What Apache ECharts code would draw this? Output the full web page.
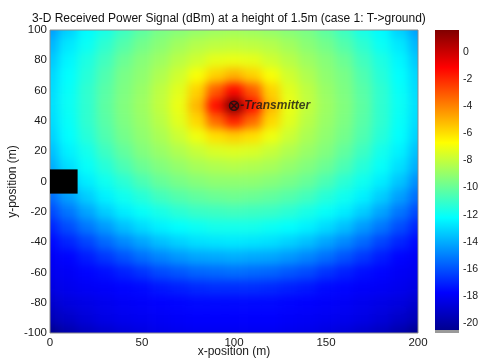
<!DOCTYPE html>
<html><head><meta charset="utf-8">
<script src="https://cdn.jsdelivr.net/npm/echarts@6/dist/echarts.min.js"></script>
<style>
html,body{margin:0;padding:0;background:#fff;}
#clip{position:absolute;left:50px;top:30px;width:368px;height:303px;overflow:hidden;}
#heat{position:absolute;left:-50px;top:-30px;width:478px;height:363px;filter:blur(5px);}
#main{position:absolute;left:0;top:0;width:478px;height:363px;}
</style></head><body>
<div id="clip"><div id="heat"></div></div>
<div id="main"></div>
<script>
// ---------- data ----------
const titleText = '3-D Received Power Signal (dBm) at a height of 1.5m (case 1: T->ground)';
const xPositions = [0,10,20,30,40,50,60,70,80,90,100,110,120,130,140,150,160,170,180,190,200];
const yPositions = [100,90,80,70,60,50,40,30,20,10,0,-10,-20,-30,-40,-50,-60,-70,-80,-90,-100];
// received power (dBm), one row per y position (top to bottom), one column per x position
const powerRows = [
 [-14.3,-13.2,-12.3,-11.7,-10.9,-10.2,-9.6,-9.3,-9.0,-8.8,-8.7,-8.8,-9.0,-9.3,-9.6,-10.2,-10.9,-11.7,-12.3,-13.2,-14.3],
 [-13.8,-12.7,-12.0,-11.2,-10.4,-9.7,-9.2,-8.7,-8.3,-8.1,-8.0,-8.1,-8.3,-8.7,-9.2,-9.7,-10.4,-11.2,-12.0,-12.7,-13.8],
 [-13.4,-12.4,-11.6,-10.8,-9.9,-9.3,-8.8,-8.2,-7.7,-7.2,-7.1,-7.2,-7.7,-8.2,-8.8,-9.3,-9.9,-10.8,-11.6,-12.4,-13.4],
 [-13.1,-12.2,-11.4,-10.5,-9.6,-9.1,-8.4,-7.7,-6.8,-5.7,-5.0,-5.7,-6.8,-7.7,-8.4,-9.1,-9.6,-10.5,-11.4,-12.2,-13.1],
 [-13.0,-12.1,-11.2,-10.3,-9.5,-8.9,-8.1,-7.3,-5.7,-3.1,-1.3,-3.1,-5.7,-7.3,-8.1,-8.9,-9.5,-10.3,-11.2,-12.1,-13.0],
 [-12.9,-12.0,-11.2,-10.2,-9.4,-8.8,-8.0,-7.1,-5.1,-1.4,1.6,-1.4,-5.1,-7.1,-8.0,-8.8,-9.4,-10.2,-11.2,-12.0,-12.9],
 [-13.0,-12.1,-11.2,-10.3,-9.5,-8.9,-8.2,-7.3,-5.8,-3.4,-1.8,-3.4,-5.8,-7.3,-8.2,-8.9,-9.5,-10.3,-11.2,-12.1,-13.0],
 [-13.2,-12.2,-11.4,-10.5,-9.7,-9.1,-8.5,-7.8,-7.0,-6.0,-5.6,-6.0,-7.0,-7.8,-8.5,-9.1,-9.7,-10.5,-11.4,-12.2,-13.2],
 [-13.6,-12.5,-11.8,-10.9,-10.1,-9.4,-8.9,-8.4,-7.9,-7.5,-7.4,-7.5,-7.9,-8.4,-8.9,-9.4,-10.1,-10.9,-11.8,-12.5,-13.6],
 [-14.0,-12.9,-12.1,-11.4,-10.6,-9.9,-9.4,-9.0,-8.6,-8.4,-8.3,-8.4,-8.6,-9.0,-9.4,-9.9,-10.6,-11.4,-12.1,-12.9,-14.0],
 [-14.7,-13.5,-12.6,-11.9,-11.3,-10.6,-10.0,-9.6,-9.3,-9.1,-9.1,-9.1,-9.3,-9.6,-10.0,-10.6,-11.3,-11.9,-12.6,-13.5,-14.7],
 [-15.4,-14.3,-13.3,-12.5,-11.9,-11.4,-10.8,-10.4,-10.1,-9.9,-9.8,-9.9,-10.1,-10.4,-10.8,-11.4,-11.9,-12.5,-13.3,-14.3,-15.4],
 [-16.2,-15.2,-14.2,-13.3,-12.6,-12.1,-11.7,-11.3,-11.0,-10.9,-10.8,-10.9,-11.0,-11.3,-11.7,-12.1,-12.6,-13.3,-14.2,-15.2,-16.2],
 [-17.0,-16.1,-15.2,-14.4,-13.6,-13.0,-12.5,-12.2,-12.0,-11.8,-11.8,-11.8,-12.0,-12.2,-12.5,-13.0,-13.6,-14.4,-15.2,-16.1,-17.0],
 [-17.6,-17.0,-16.3,-15.5,-14.8,-14.2,-13.6,-13.2,-12.9,-12.8,-12.7,-12.8,-12.9,-13.2,-13.6,-14.2,-14.8,-15.5,-16.3,-17.0,-17.6],
 [-18.0,-17.7,-17.2,-16.6,-16.0,-15.4,-14.9,-14.5,-14.2,-14.1,-14.0,-14.1,-14.2,-14.5,-14.9,-15.4,-16.0,-16.6,-17.2,-17.7,-18.0],
 [-18.2,-18.0,-17.7,-17.5,-17.1,-16.7,-16.2,-15.9,-15.6,-15.5,-15.4,-15.5,-15.6,-15.9,-16.2,-16.7,-17.1,-17.5,-17.7,-18.0,-18.2],
 [-18.5,-18.2,-18.0,-17.9,-17.7,-17.6,-17.3,-17.1,-16.9,-16.8,-16.8,-16.8,-16.9,-17.1,-17.3,-17.6,-17.7,-17.9,-18.0,-18.2,-18.5],
 [-19.0,-18.6,-18.4,-18.2,-18.0,-17.9,-17.8,-17.7,-17.6,-17.6,-17.6,-17.6,-17.6,-17.7,-17.8,-17.9,-18.0,-18.2,-18.4,-18.6,-19.0],
 [-19.5,-19.1,-18.7,-18.4,-18.2,-18.1,-18.0,-17.9,-17.8,-17.8,-17.8,-17.8,-17.8,-17.9,-18.0,-18.1,-18.2,-18.4,-18.7,-19.1,-19.5],
 [-20.7,-19.8,-19.3,-19.0,-18.7,-18.5,-18.3,-18.2,-18.1,-18.1,-18.1,-18.1,-18.1,-18.2,-18.3,-18.5,-18.7,-19.0,-19.3,-19.8,-20.7]
];
const transmitter = [100, 50];
const transmitterLabel = '-Transmitter';
const obstacle = [0, -8, 15, 8];          // x0, y0, x1, y1
const xTickValues = [0, 50, 100, 150, 200];
const yTickValues = [-100, -80, -60, -40, -20, 0, 20, 40, 60, 80, 100];
const colorbarTicks = [-20, -18, -16, -14, -12, -10, -8, -6, -4, -2, 0];
const jetMin = -20.55, jetMax = 1.65, colorbarMin = -20.75;

// ---------- styling ----------
const FONT = "'Liberation Sans', Arial, Helvetica, sans-serif";
const jetColors = ['#00008f','#0000ff','#0080ff','#00ffff','#80ff80','#ffff00','#ff8000','#ff0000','#800000'];
const grayColor = '#9a9a9a';

const cells = [];
yPositions.forEach((y, r) => xPositions.forEach((x, c) => cells.push([x, y, powerRows[r][c]])));
const hx = (xPositions[1] - xPositions[0]) / 2;
const hy = (yPositions[0] - yPositions[1]) / 2;
const xMin = xPositions[0], xMax = xPositions[xPositions.length - 1];
const yMax = yPositions[0], yMin = yPositions[yPositions.length - 1];

// ----- heat layer (blurred to mimic the interpolated shading) -----
const heat = echarts.init(document.getElementById('heat'), null, {renderer: 'canvas'});
heat.setOption({
  animation: false,
  grid: {left: 50, top: 30, width: 368, height: 303, outerBoundsMode: 'none'},
  xAxis: {type: 'value', min: 0, max: 200, show: false},
  yAxis: {type: 'value', min: -100, max: 100, show: false},
  visualMap: {show: false, type: 'continuous', min: jetMin, max: jetMax, dimension: 2, seriesIndex: 0,
    inRange: {color: jetColors}, outOfRange: {color: grayColor}},
  series: [{
    type: 'custom', data: cells, clip: false,
    renderItem: function (params, api) {
      const x = api.value(0), y = api.value(1);
      const p0 = api.coord([x - hx, y + hy]);
      const p1 = api.coord([x + hx, y - hy]);
      let l = p0[0], t = p0[1], r = p1[0], b = p1[1];
      const pad = 30;
      if (x === xMin) l -= pad;
      if (x === xMax) r += pad;
      if (y === yMax) t -= pad;
      if (y === yMin) b += pad;
      return {type: 'rect', shape: {x: l, y: t, width: r - l + 0.6, height: b - t + 0.6},
        style: {fill: api.visual('color')}};
    }
  }]
});

// ----- main layer: axes, text, marks, colorbar -----
const cbOffset = (jetMin - colorbarMin) / (jetMax - colorbarMin);
const cbStops = [{offset: 0, color: grayColor}, {offset: cbOffset, color: grayColor}];
jetColors.forEach((c, i) => cbStops.push({offset: cbOffset + (1 - cbOffset) * i / (jetColors.length - 1), color: c}));

const labelStyle = {color: '#1a1a1a', fontSize: 11.5, fontFamily: FONT};
const nameStyle = {color: '#1a1a1a', fontSize: 12, fontFamily: FONT};
const cbLabelStyle = {color: '#1a1a1a', fontSize: 10.5, fontFamily: FONT};
const main = echarts.init(document.getElementById('main'), null, {renderer: 'canvas'});
main.setOption({
  animation: false,
  backgroundColor: 'transparent',
  title: {text: titleText, left: 27, top: 8,
    textStyle: {fontSize: 12, fontWeight: 'normal', color: '#111', fontFamily: FONT}},
  grid: [
    {left: 50, top: 30, width: 368, height: 303, show: true, borderColor: '#8a8a8a', borderWidth: 1,
      backgroundColor: 'transparent', outerBoundsMode: 'none'},
    {left: 435, top: 30, width: 24, height: 303, outerBoundsMode: 'none'}
  ],
  xAxis: [
    {type: 'value', gridIndex: 0, min: 0, max: 200, interval: 50,
      name: 'x-position (m)', nameLocation: 'middle', nameGap: 13, nameMoveOverlap: false,
      nameTextStyle: nameStyle,
      axisLine: {show: false}, axisTick: {show: false}, splitLine: {show: false},
      axisLabel: Object.assign({margin: 4, customValues: xTickValues}, labelStyle)},
    {type: 'value', gridIndex: 1, min: 0, max: 1, show: false}
  ],
  yAxis: [
    {type: 'value', gridIndex: 0, min: -100, max: 100, interval: 20,
      name: 'y-position (m)', nameLocation: 'middle', nameRotate: 90, nameGap: 31, nameMoveOverlap: false,
      nameTextStyle: nameStyle,
      axisLine: {show: false}, axisTick: {show: false}, splitLine: {show: false},
      axisLabel: Object.assign({margin: 3, customValues: yTickValues}, labelStyle)},
    {type: 'value', gridIndex: 1, min: colorbarMin, max: jetMax, position: 'right',
      axisLine: {show: false}, axisTick: {show: false}, splitLine: {show: false},
      axisLabel: Object.assign({margin: 4, customValues: colorbarTicks}, cbLabelStyle)}
  ],
  series: [
    {type: 'custom', xAxisIndex: 0, yAxisIndex: 0, data: [obstacle], z: 3,
      renderItem: function (params, api) {
        const a = api.coord([api.value(0), api.value(3)]);
        const b = api.coord([api.value(2), api.value(1)]);
        return {type: 'rect', shape: {x: a[0], y: a[1], width: b[0] - a[0], height: b[1] - a[1]}, style: {fill: '#000'}};
      }},
    {type: 'scatter', xAxisIndex: 0, yAxisIndex: 0, data: [transmitter], z: 4,
      symbol: 'path://M0,5A5,5 0 1,1 10,5A5,5 0 1,1 0,5Z M1.6,1.6L8.4,8.4 M8.4,1.6L1.6,8.4',
      symbolSize: 9,
      itemStyle: {color: 'rgba(0,0,0,0)', borderColor: '#111', borderWidth: 1.5},
      label: {show: true, position: 'right', distance: 1, formatter: transmitterLabel,
        fontStyle: 'italic', fontWeight: 'bold', fontSize: 12, color: '#151515', fontFamily: FONT}},
    {type: 'custom', xAxisIndex: 1, yAxisIndex: 1, data: [[0, colorbarMin, 1, jetMax]],
      renderItem: function (params, api) {
        const a = api.coord([api.value(0), api.value(3)]);
        const b = api.coord([api.value(2), api.value(1)]);
        return {type: 'rect', shape: {x: a[0], y: a[1], width: b[0] - a[0], height: b[1] - a[1]},
          style: {fill: new echarts.graphic.LinearGradient(0, 1, 0, 0, cbStops)}};
      }}
  ]
});
</script>
</body></html>
